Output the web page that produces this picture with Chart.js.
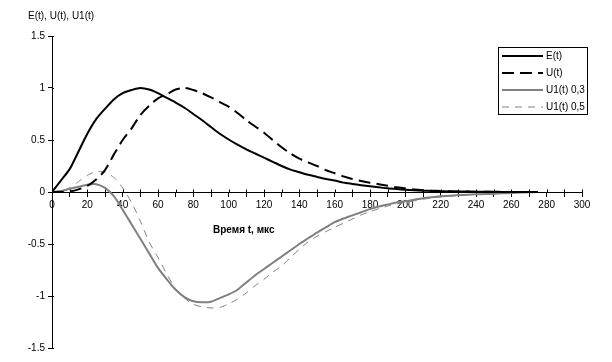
<!DOCTYPE html>
<html>
<head>
<meta charset="utf-8">
<script src="https://cdn.jsdelivr.net/npm/chart.js@4.4.1/dist/chart.umd.min.js"></script>
<style>
  html, body { margin: 0; padding: 0; background: #fff; }
  #wrap { width: 612px; height: 362px; }
</style>
</head>
<body>
<div id="wrap"><canvas id="chart" width="612" height="362"></canvas></div>
<script>
// time, mks
const times = [0, 5, 10, 15, 20, 25, 30, 35, 40, 45, 50, 55, 60, 65, 70, 75, 80, 85, 90, 95,
  100, 105, 110, 115, 120, 125, 130, 135, 140, 145, 150, 155, 160, 165, 170, 175, 180, 185, 190, 195,
  200, 205, 210, 215, 220, 225, 230, 235, 240, 245, 250, 255, 260, 265, 270, 275];

const eValues = [0, 0.11, 0.22, 0.39, 0.56, 0.70, 0.80, 0.89, 0.95, 0.98, 1.0, 0.985, 0.95, 0.905, 0.86, 0.81, 0.75, 0.69, 0.625, 0.56,
  0.505, 0.455, 0.41, 0.37, 0.33, 0.29, 0.25, 0.215, 0.19, 0.165, 0.145, 0.125, 0.11, 0.09, 0.078, 0.066, 0.055, 0.045, 0.035, 0.028,
  0.022, 0.017, 0.013, 0.01, 0.008, 0.006, 0.005, 0.004, 0.003, 0.002, 0.002, 0.001, 0.001, 0, 0, 0];

const uValues = [0, 0, 0.005, 0.025, 0.06, 0.12, 0.21, 0.36, 0.5, 0.61, 0.74, 0.83, 0.9, 0.94, 0.985, 1.0, 0.98, 0.95, 0.91, 0.865,
  0.82, 0.76, 0.69, 0.63, 0.57, 0.5, 0.43, 0.37, 0.32, 0.285, 0.25, 0.21, 0.18, 0.15, 0.125, 0.105, 0.088, 0.075, 0.06, 0.045,
  0.035, 0.025, 0.018, 0.013, 0.01, 0.007, 0.005, 0.004, 0.003, 0.002, 0.001, 0.001, 0, 0, 0, 0];

const u1Values03 = [0, 0.01, 0.03, 0.05, 0.07, 0.075, 0.04, -0.04, -0.17, -0.31, -0.45, -0.59, -0.73, -0.84, -0.94, -1.01, -1.05, -1.06, -1.055, -1.02,
  -0.985, -0.94, -0.87, -0.8, -0.74, -0.68, -0.62, -0.56, -0.5, -0.445, -0.39, -0.34, -0.29, -0.255, -0.225, -0.195, -0.165, -0.14, -0.12, -0.1,
  -0.09, -0.075, -0.06, -0.05, -0.042, -0.036, -0.03, -0.026, -0.022, -0.02, -0.017, -0.013, -0.01, -0.006, -0.003, 0];

const u1Values05 = [0, 0.01, 0.04, 0.1, 0.16, 0.195, 0.19, 0.14, 0.04, -0.1, -0.28, -0.48, -0.63, -0.79, -0.93, -1.02, -1.08, -1.105, -1.115, -1.11,
  -1.075, -1.03, -0.97, -0.9, -0.84, -0.77, -0.71, -0.63, -0.55, -0.48, -0.425, -0.38, -0.34, -0.3, -0.26, -0.22, -0.19, -0.16, -0.135, -0.115,
  -0.1, -0.085, -0.07, -0.058, -0.048, -0.04, -0.033, -0.028, -0.024, -0.02, -0.017, -0.013, -0.01, -0.006, -0.003, 0];

const seriesNames = ['E(t)', 'U(t)', 'U1(t) 0,3', 'U1(t) 0,5'];
const yTitle = 'E(t), U(t), U1(t)';
const xTitle = 'Время t, мкс';

const FONT = "Arial, 'Liberation Sans', sans-serif";

// titles, boxed legend and the upper half of x tick marks
const extras = {
  id: 'extras',
  afterDraw(chart) {
    const ctx = chart.ctx;
    const xs = chart.scales.x, ys = chart.scales.y;
    const y0 = Math.round(ys.getPixelForValue(0)) + 0.5;
    ctx.save();
    ctx.strokeStyle = '#000';
    ctx.lineWidth = 1;
    xs.ticks.forEach(t => {
      const px = Math.round(xs.getPixelForValue(t.value)) + 0.5;
      ctx.beginPath();
      ctx.moveTo(px, y0 - 3);
      ctx.lineTo(px, y0);
      ctx.stroke();
    });
    ys.ticks.forEach(t => {
      const py = Math.round(ys.getPixelForValue(t.value)) + 0.5;
      ctx.beginPath();
      ctx.moveTo(xs.left, py);
      ctx.lineTo(xs.left + 2, py);
      ctx.stroke();
    });

    // legend
    ctx.fillStyle = '#fff';
    ctx.fillRect(498.5, 47.5, 89, 67);
    ctx.strokeStyle = '#000';
    ctx.strokeRect(498.5, 47.5, 89, 67);
    ctx.font = '10px ' + FONT;
    ctx.textBaseline = 'middle';
    ctx.textAlign = 'left';
    chart.data.datasets.forEach((ds, i) => {
      const ly = 56 + i * 17;
      ctx.save();
      ctx.strokeStyle = ds.borderColor;
      ctx.lineWidth = ds.borderWidth;
      ctx.setLineDash(ds.borderDash || []);
      ctx.beginPath();
      ctx.moveTo(502, ly);
      ctx.lineTo(543, ly);
      ctx.stroke();
      ctx.restore();
      ctx.fillStyle = '#000';
      ctx.fillText(ds.label, 546, ly);
    });

    ctx.fillStyle = '#000';
    ctx.fillText(yTitle, 28, 16);
    ctx.font = 'bold 10px ' + FONT;
    ctx.fillText(xTitle, 213, 230);
    ctx.restore();
  }
};

const lineStyle = { pointRadius: 0, pointHoverRadius: 0, fill: false, tension: 0.25 };

new Chart(document.getElementById('chart'), {
  type: 'line',
  data: {
    labels: times,
    datasets: [
      { label: seriesNames[0], data: eValues, borderColor: '#000', borderWidth: 2, ...lineStyle },
      { label: seriesNames[1], data: uValues, borderColor: '#000', borderWidth: 2, borderDash: [12, 6], ...lineStyle },
      { label: seriesNames[2], data: u1Values03, borderColor: '#808080', borderWidth: 2, ...lineStyle },
      { label: seriesNames[3], data: u1Values05, borderColor: '#808080', borderWidth: 1, borderDash: [7, 6], ...lineStyle }
    ]
  },
  options: {
    responsive: false,
    animation: false,
    layout: { padding: { left: 0, right: 30, top: 36, bottom: 14 } },
    plugins: {
      legend: { display: false },
      tooltip: { enabled: false }
    },
    scales: {
      x: {
        type: 'linear',
        position: { y: 0 },
        min: 0,
        max: 300,
        grid: { display: true, drawOnChartArea: false, drawTicks: true, tickLength: 4, color: '#000' },
        border: { display: true, color: '#000', width: 1 },
        ticks: {
          stepSize: 10,
          autoSkip: false,
          maxRotation: 0,
          color: '#000',
          font: { family: FONT, size: 10 },
          callback: v => (v % 20 === 0 ? String(v) : '')
        }
      },
      y: {
        min: -1.5,
        max: 1.5,
        afterFit: s => { s.width = 52; },
        grid: { display: true, drawOnChartArea: false, drawTicks: true, tickLength: 4, color: '#000' },
        border: { display: true, color: '#000', width: 1 },
        ticks: {
          stepSize: 0.5,
          color: '#000',
          font: { family: FONT, size: 10 },
          callback: v => String(v)
        }
      }
    }
  },
  plugins: [extras]
});
</script>
</body>
</html>
